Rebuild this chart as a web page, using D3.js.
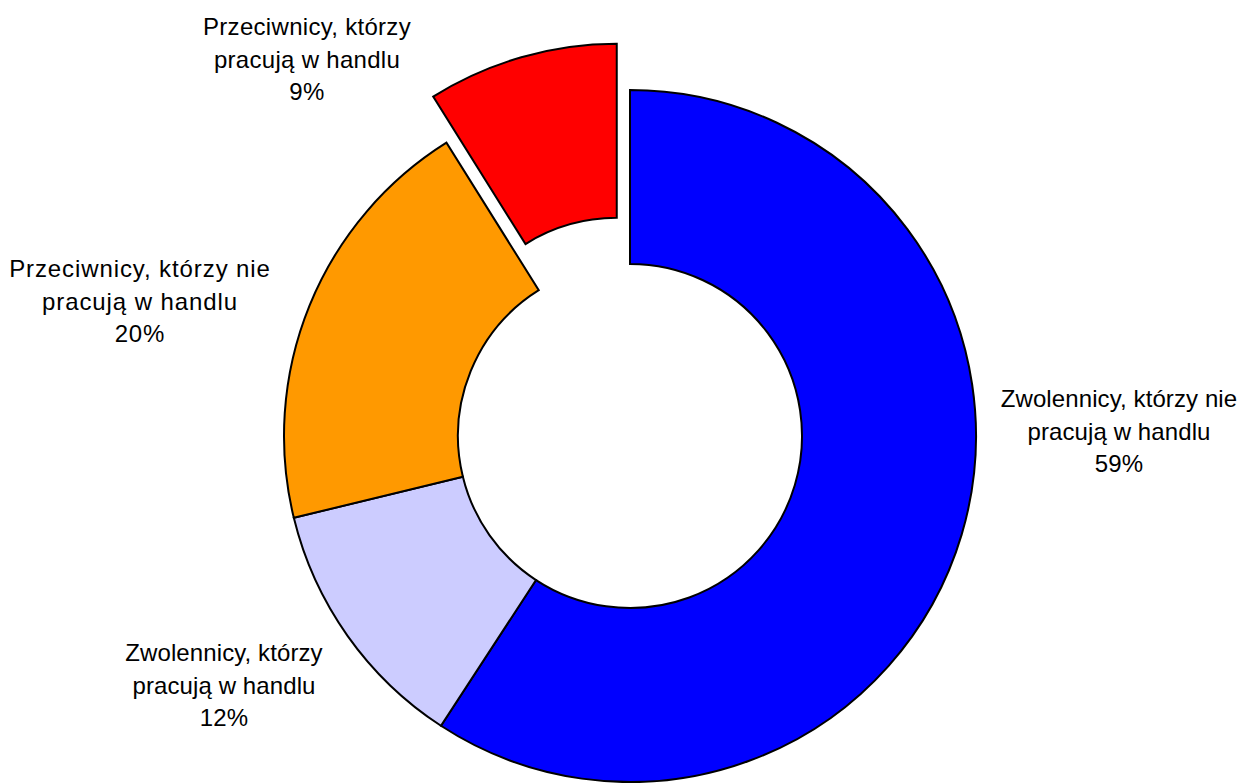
<!DOCTYPE html>
<html>
<head>
<meta charset="utf-8">
<script src="https://cdn.jsdelivr.net/npm/d3@7"></script>
<style>
  html, body { margin: 0; padding: 0; background: #fff; }
  svg { display: block; }
  text { font-family: "Liberation Sans", Arial, sans-serif; font-size: 24px; fill: #000; }
</style>
</head>
<body>
<svg id="chart" width="1240" height="783"></svg>
<script>
// ---- data ----
const categories = [
  "Zwolennicy, którzy nie pracują w handlu",
  "Zwolennicy, którzy pracują w handlu",
  "Przeciwnicy, którzy nie pracują w handlu",
  "Przeciwnicy, którzy pracują w handlu"
];
const labelLines = [
  ["Zwolennicy, którzy nie", "pracują w handlu"],
  ["Zwolennicy, którzy", "pracują w handlu"],
  ["Przeciwnicy, którzy nie", "pracują w handlu"],
  ["Przeciwnicy, którzy", "pracują w handlu"]
];
const values = [59.2, 12.0, 19.9, 8.9];
const colors = ["#0000FF", "#CCCCFF", "#FF9900", "#FF0000"];
const exploded = [false, false, false, true];

// ---- layout ----
const W = 1240, H = 783;
const cx = 630, cy = 436;
const outerR = 346, innerR = 172;
const explodeDist = 48;
const lineGap = 32.5;
// label anchor (center x, first baseline y) relative to the chart centre
const labelPos = [
  [489, -29],
  [-406, 225],
  [-490, -159],
  [-323, -401]
];
const labelSpacing = [0.1, 0.1, 0.9, 0.3];

const svg = d3.select("#chart");
const g = svg.append("g").attr("transform", `translate(${cx},${cy})`);

const pie = d3.pie().sort(null).value(d => d).startAngle(0).endAngle(2 * Math.PI);
const arcs = pie(values);
const arc = d3.arc().innerRadius(innerR).outerRadius(outerR);
const total = d3.sum(values);

g.selectAll("path.slice")
  .data(arcs)
  .join("path")
  .attr("class", "slice")
  .attr("d", arc)
  .attr("fill", (d, i) => colors[i])
  .attr("stroke", "#000")
  .attr("stroke-width", 2)
  .attr("stroke-linejoin", "miter")
  .attr("transform", (d, i) => {
    if (!exploded[i]) return null;
    const a = (d.startAngle + d.endAngle) / 2;
    return `translate(${explodeDist * Math.sin(a)},${-explodeDist * Math.cos(a)})`;
  });

const labels = g.selectAll("text.lbl")
  .data(arcs)
  .join("text")
  .attr("class", "lbl")
  .attr("text-anchor", "middle")
  .attr("letter-spacing", (d, i) => labelSpacing[i])
  .attr("x", (d, i) => labelPos[i][0])
  .attr("y", (d, i) => labelPos[i][1]);

labels.each(function (d, i) {
  const t = d3.select(this);
  const lines = labelLines[i].concat([Math.round(d.value / total * 100) + "%"]);
  lines.forEach((ln, k) => {
    t.append("tspan")
      .attr("x", labelPos[i][0])
      .attr("dy", k === 0 ? 0 : lineGap)
      .text(ln);
  });
});
</script>
</body>
</html>
